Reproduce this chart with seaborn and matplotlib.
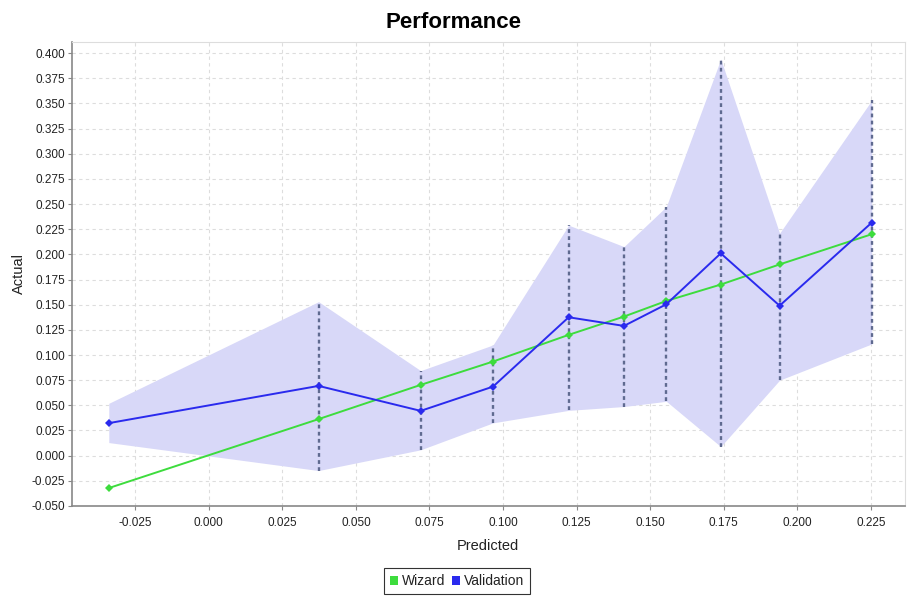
import matplotlib
matplotlib.use("Agg")
import matplotlib.pyplot as plt
import seaborn as sns
import pandas as pd
from matplotlib.patches import Patch

# valores
predito = [-0.034, 0.0373, 0.072, 0.0966, 0.1223, 0.1411, 0.1555, 0.174, 0.194, 0.2253]
wizard = [-0.0322, 0.0363, 0.0703, 0.0935, 0.120, 0.1382, 0.1537, 0.170, 0.190, 0.220]
validacao = [0.0323, 0.0693, 0.0445, 0.0686, 0.1375, 0.1289, 0.1504, 0.201, 0.149, 0.2315]
banda_sup = [0.052, 0.153, 0.0845, 0.110, 0.229, 0.2077, 0.2474, 0.394, 0.221, 0.353]
banda_inf = [0.013, -0.0148, 0.0058, 0.0326, 0.045, 0.0488, 0.054, 0.009, 0.075, 0.111]

xticks = [-0.025, 0.000, 0.025, 0.050, 0.075, 0.100, 0.125, 0.150, 0.175, 0.200, 0.225]
yticks = [-0.050 + 0.025 * i for i in range(19)]

df = pd.DataFrame({
    'Predicted': predito,
    'Wizard': wizard,
    'Validation': validacao,
    'sup': banda_sup,
    'inf': banda_inf,
})

sns.set_style("white")
plt.rcParams['font.family'] = ['Liberation Sans', 'DejaVu Sans']
plt.rcParams['text.color'] = '#222222'
plt.rcParams['axes.labelcolor'] = '#222222'

verde = '#3ddc3d'
azul = '#2a2aee'

fig = plt.figure(figsize=(9.07, 5.99), dpi=100)
ax = fig.add_axes([0.0794, 0.1553, 0.918, 0.7746])

# banda de confianca
ax.fill_between(df['Predicted'], df['inf'], df['sup'], color='#d8d8f8', lw=0, zorder=1)
# linhas tracejadas (o primeiro ponto nao tem)
ax.vlines(df['Predicted'][1:], df['inf'][1:], df['sup'][1:], colors='#5f6a90',
          linestyles=(0, (1.6, 1.4)), lw=1.7, zorder=2)

sns.lineplot(data=df, x='Predicted', y='Wizard', color=verde, marker='D',
             markersize=4, markeredgewidth=0, lw=1.4, ax=ax, zorder=3)
sns.lineplot(data=df, x='Predicted', y='Validation', color=azul, marker='D',
             markersize=4.5, markeredgewidth=0, lw=1.4, ax=ax, zorder=4)

ax.set_xlim(-0.0465, 0.2365)
ax.set_ylim(-0.050, 0.411)
ax.set_xticks(xticks)
ax.set_xticklabels([f'{v:.3f}' for v in xticks])
ax.set_yticks(yticks)
ax.set_yticklabels([f'{v:.3f}' for v in yticks])
ax.tick_params(axis='both', labelsize=8.5, length=3, width=0.8, color='#888888',
               labelcolor='#222222', direction='out', bottom=True, left=True, pad=2)
ax.tick_params(axis='x', pad=5)

ax.grid(True, color='#dddddd', linestyle=(0, (3, 3)), lw=0.8)
ax.set_axisbelow(True)
for lado in ['left', 'bottom']:
    ax.spines[lado].set_color('#888888')
    ax.spines[lado].set_linewidth(1.2)
for lado in ['top', 'right']:
    ax.spines[lado].set_color('#dddddd')
    ax.spines[lado].set_linewidth(0.8)

ax.set_xlabel('Predicted', fontsize=10.5, labelpad=7)
ax.set_ylabel('Actual', fontsize=10.5, labelpad=4)
fig.suptitle('Performance', fontsize=16, fontweight='bold', color='black', y=0.98)

handles = [Patch(facecolor=verde, edgecolor='none'), Patch(facecolor=azul, edgecolor='none')]
leg = fig.legend(handles, ['Wizard', 'Validation'], loc='center', bbox_to_anchor=(0.504, 0.03),
                 ncol=2, fontsize=10, frameon=True, fancybox=False, handlelength=0.6,
                 handleheight=0.6, handletextpad=0.25, columnspacing=0.5, borderpad=0.45)
leg.get_frame().set_edgecolor('#000000')
leg.get_frame().set_linewidth(0.8)

fig.savefig('out.png', dpi=100)
